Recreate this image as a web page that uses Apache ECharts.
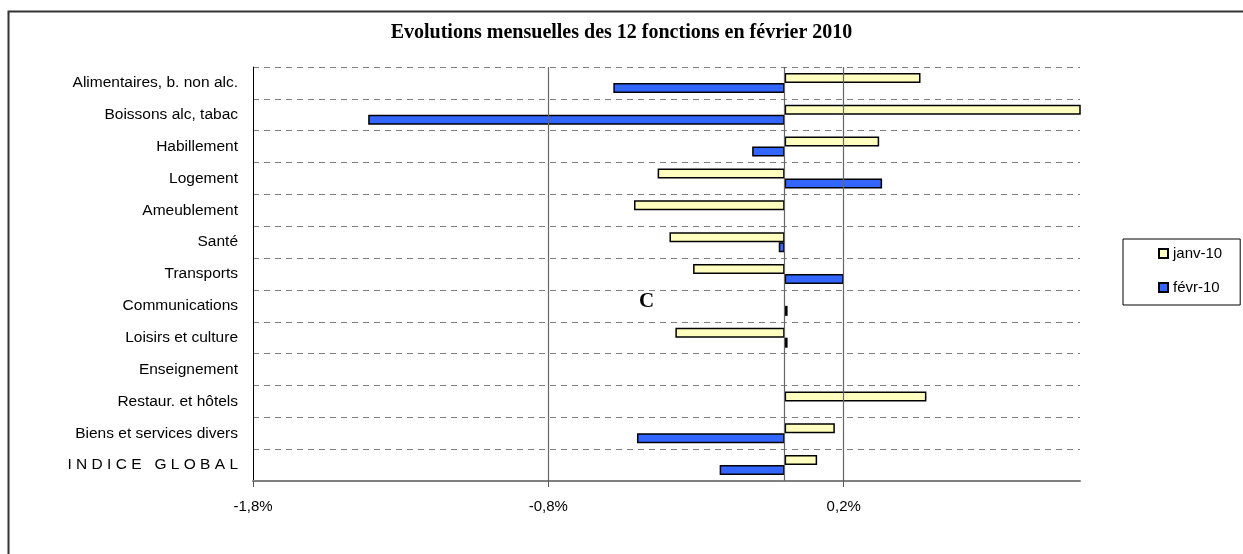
<!DOCTYPE html>
<html>
<head>
<meta charset="utf-8">
<script src="https://cdn.jsdelivr.net/npm/echarts@6/dist/echarts.min.js"></script>
<style>
  html, body { margin: 0; padding: 0; background: #fff; }
  #chart { width: 1243px; height: 554px; }
</style>
</head>
<body>
<div id="chart"></div>
<script>
// categories, top to bottom
var categories = [
    'Alimentaires, b. non alc.',
    'Boissons alc, tabac',
    'Habillement',
    'Logement',
    'Ameublement',
    'Santé',
    'Transports',
    'Communications',
    'Loisirs et culture',
    'Enseignement',
    'Restaur. et hôtels',
    'Biens et services divers',
    'I N D I C E   G L O B A L'
];
// monthly change, in %
var janv10 = [0.46, 1.05, 0.32, -0.43, -0.51, -0.39, -0.31, 0, -0.37, 0, 0.48, 0.17, 0.11];
var fevr10 = [-0.58, -1.41, -0.11, 0.33, 0, -0.02, 0.20, 0.01, 0.01, 0, 0, -0.50, -0.22];
var seriesNames = ['janv-10', 'févr-10'];
var xTickValues = [-1.8, -0.8, 0.2];

function fmtPct(v) {
    return v.toFixed(1).replace('.', ',') + '%';
}
function noZero(arr) {
    return arr.map(function (v) { return v === 0 ? '-' : v; });
}

var myChart = echarts.init(document.getElementById('chart'));

var option = {
    backgroundColor: '#fff',
    animation: false,
    textStyle: { fontFamily: 'Liberation Sans' },
    title: {
        text: 'Evolutions mensuelles des 12 fonctions en février 2010',
        left: 'center',
        top: 18,
        textStyle: {
            fontFamily: 'Liberation Serif',
            fontWeight: 'bold',
            fontSize: 20,
            color: '#000'
        }
    },
    legend: {
        data: seriesNames,
        orient: 'vertical',
        left: 1123,
        top: 239,
        padding: [7, 18, 10, 35],
        itemGap: 19,
        itemWidth: 9,
        itemHeight: 9,
        icon: 'rect',
        borderColor: '#000',
        borderWidth: 1,
        textStyle: { fontSize: 15, color: '#000', fontFamily: 'Liberation Sans' }
    },
    grid: { left: 253, right: 163, top: 67, bottom: 73 },
    xAxis: {
        type: 'value',
        min: -1.8,
        max: 1.0,
        interval: 0.2,
        splitLine: { show: false },
        axisLine: { show: true, lineStyle: { color: '#808080', width: 2 } },
        axisTick: {
            show: true,
            customValues: xTickValues,
            length: 6,
            lineStyle: { color: '#555', width: 1 }
        },
        axisLabel: {
            customValues: xTickValues,
            margin: 18,
            fontSize: 15,
            color: '#000',
            formatter: function (v) {
                for (var k = 0; k < xTickValues.length; k++) {
                    if (Math.abs(v - xTickValues[k]) < 1e-6) return fmtPct(xTickValues[k]);
                }
                return '';
            }
        }
    },
    yAxis: {
        type: 'category',
        data: categories,
        inverse: true,
        axisLine: { show: true, onZero: false, lineStyle: { color: '#000', width: 1 } },
        axisTick: { show: false },
        axisLabel: { margin: 15, fontSize: 15.5, color: '#000' },
        splitLine: {
            show: true,
            lineStyle: { color: '#808080', type: [6, 5], width: 1 }
        }
    },
    series: [
        {
            name: seriesNames[0],
            type: 'bar',
            data: noZero(janv10),
            barWidth: 10,
            barGap: '0%',
            itemStyle: { color: '#FFFFC0', borderColor: '#000', borderWidth: 1.5 },
            markLine: {
                silent: true,
                symbol: 'none',
                label: { show: false },
                lineStyle: { color: '#666', type: 'solid', width: 1.2 },
                data: [{ xAxis: -0.8 }, { xAxis: 0 }, { xAxis: 0.2 }]
            }
        },
        {
            name: seriesNames[1],
            type: 'bar',
            data: noZero(fevr10),
            barWidth: 10,
            barGap: '0%',
            itemStyle: { color: '#3366FF', borderColor: '#000', borderWidth: 1.5 }
        }
    ],
    graphic: [
        {
            type: 'rect',
            left: 6,
            top: 9,
            shape: { width: 1400, height: 700 },
            style: { fill: 'none', stroke: '#333', lineWidth: 2 },
            silent: true
        },
        {
            type: 'text',
            left: 639,
            top: 291,
            style: {
                text: 'C',
                font: 'bold 21px "Liberation Serif"',
                fill: '#000'
            }
        }
    ]
};

myChart.setOption(option);
</script>
</body>
</html>
